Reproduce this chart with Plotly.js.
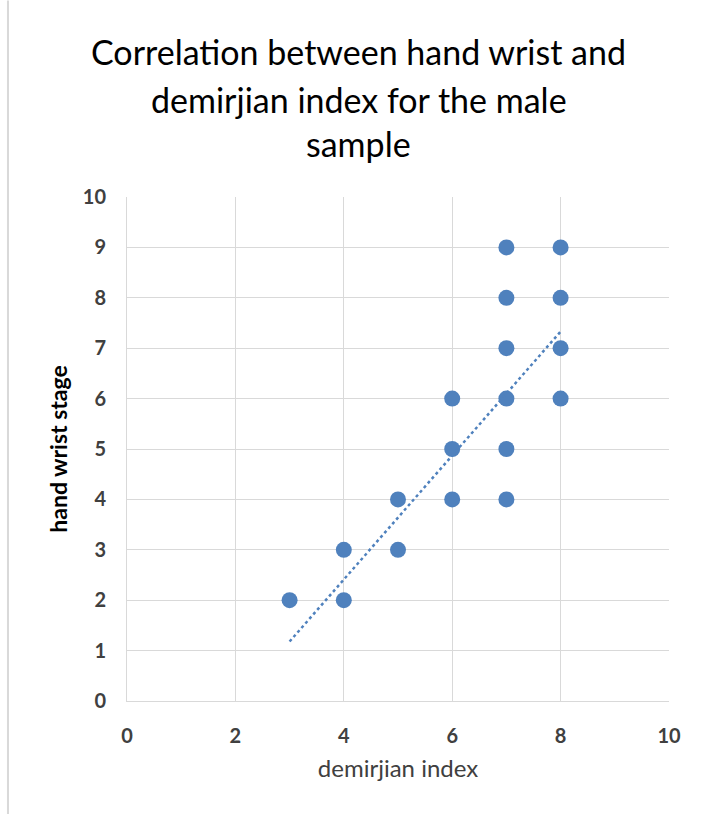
<!DOCTYPE html>
<html><head><meta charset="utf-8">
<script src="https://cdn.plot.ly/plotly-3.0.1.min.js"></script>
<style>html,body{margin:0;padding:0;background:#fff}#chart{width:703px;height:814px}</style>
</head><body><div id="chart"></div>
<script>
const demirjianIndex = [3, 4, 4, 5, 5, 6, 6, 6, 7, 7, 7, 7, 7, 7, 8, 8, 8, 8];
const handWristStage = [2, 3, 2, 4, 3, 6, 5, 4, 9, 8, 7, 6, 5, 4, 9, 8, 7, 6];
const trendX = [3, 8];
const trendY = [1.18, 7.33];
const titleLines = ["Correlation between hand wrist and", "demirjian index for the male", "sample"];
const xTicks = [0, 2, 4, 6, 8, 10];
const yTicks = [0, 1, 2, 3, 4, 5, 6, 7, 8, 9, 10];

const font = "Lato, 'Open Sans', sans-serif";
const traces = [
  {x: demirjianIndex, y: handWristStage, type: 'scatter', mode: 'markers',
   marker: {size: 16, color: '#4F81BD'}, showlegend: false, hoverinfo: 'x+y'},
  {x: trendX, y: trendY, type: 'scatter', mode: 'lines',
   line: {color: '#4F81BD', width: 2.5, dash: 'dot'}, showlegend: false}
];
const titleY = [1.2877, 1.1925, 1.1071];
const layout = {
  width: 703, height: 814,
  margin: {l: 127, r: 34, t: 197, b: 113},
  paper_bgcolor: '#fff', plot_bgcolor: '#fff',
  font: {family: font, color: '#404040'},
  xaxis: {range: [0, 10], tickvals: xTicks, ticktext: xTicks.map(String),
    showgrid: true, gridcolor: '#d9d9d9', gridwidth: 1, zeroline: false,
    showline: true, linecolor: '#d9d9d9', mirror: false,
    ticks: '', ticklabelstandoff: 17, tickfont: {size: 20, color: '#404040', family: font, weight: 'bold'},
    title: {text: 'demirjian index', font: {size: 24, color: '#404040', family: font}, standoff: 14},
    fixedrange: true},
  yaxis: {range: [0, 10], tickvals: yTicks, ticktext: yTicks.map(String),
    showgrid: true, gridcolor: '#d9d9d9', gridwidth: 1, zeroline: false,
    showline: true, linecolor: '#d9d9d9',
    ticks: '', ticklabelstandoff: 16, tickfont: {size: 20, color: '#404040', family: font, weight: 'bold'},
    title: {text: 'hand wrist stage', font: {size: 23, color: '#000', family: font, weight: 'bold'}, standoff: 8},
    fixedrange: true},
  annotations: titleLines.map((t, i) => ({
    text: t, xref: 'paper', yref: 'paper', x: 0.428, y: titleY[i],
    xanchor: 'center', yanchor: 'middle', showarrow: false,
    font: {size: 34, color: '#000', family: font}
  })),
  shapes: [{type: 'line', xref: 'paper', yref: 'paper', x0: -0.2196, x1: -0.2196, y0: -0.224, y1: 1.39,
    line: {color: '#d9d9d9', width: 2}}]
};
Plotly.newPlot('chart', traces, layout, {displayModeBar: false, staticPlot: true});
</script></body></html>
